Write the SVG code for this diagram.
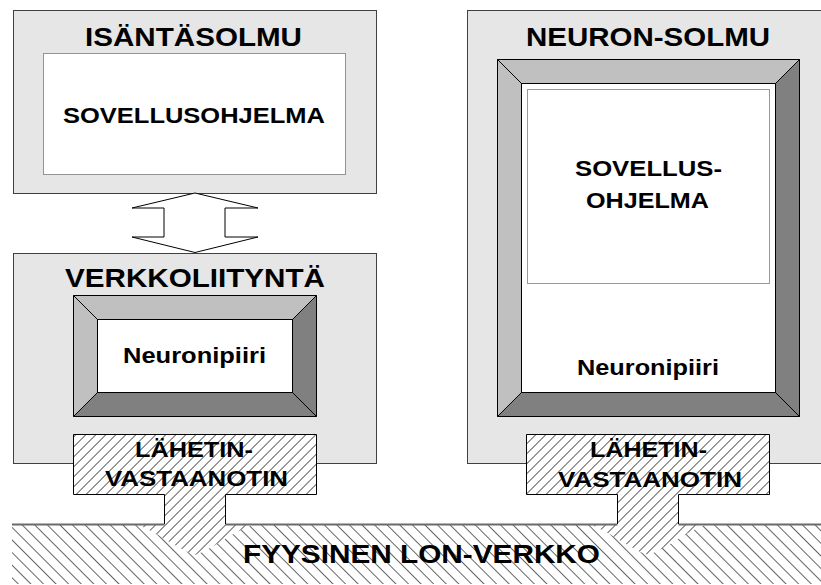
<svg xmlns="http://www.w3.org/2000/svg" width="821" height="585" viewBox="0 0 821 585">
<defs>
<pattern id="fwd" patternUnits="userSpaceOnUse" width="7.07" height="7.07" patternTransform="rotate(45)">
<rect width="7.07" height="7.07" fill="#fff"/>
<line x1="0" y1="0" x2="0" y2="7.07" stroke="#000" stroke-width="1.2"/>
</pattern>
<pattern id="back" patternUnits="userSpaceOnUse" width="8.9" height="8.9" patternTransform="rotate(-45)">
<rect width="8.9" height="8.9" fill="#fff"/>
<line x1="0" y1="0" x2="0" y2="8.9" stroke="#000" stroke-width="1.2"/>
</pattern>
</defs>
<style>
text{font-family:"Liberation Sans",Arial,sans-serif;font-weight:bold;fill:#000;}
.big{font-size:26px;}
.med{font-size:22px;}
.box{fill:#e6e6e6;stroke:#404040;stroke-width:1;}
.dot{fill:#fff;stroke:#333;stroke-width:1;stroke-dasharray:1 1;}
.bev{stroke:#000;stroke-width:1;stroke-linejoin:miter;}
.lt{fill:#c0c0c0;}
.dk{fill:#808080;}
.out{fill:none;stroke:#000;stroke-width:1;}
</style>
<rect width="821" height="585" fill="#fff"/>

<g id="isantasolmu">
<rect class="box" x="13.5" y="10.5" width="363" height="183"/>
<rect class="dot" x="43.5" y="53.5" width="302" height="121"/>
<text class="big" x="85" y="46" textLength="217" lengthAdjust="spacingAndGlyphs">ISÄNTÄSOLMU</text>
<text class="med" x="63" y="123" textLength="262" lengthAdjust="spacingAndGlyphs">SOVELLUSOHJELMA</text>
</g>

<g id="verkkoliityntä">
<rect class="box" x="13.5" y="253.5" width="363" height="210"/>
<text class="big" x="65" y="287" textLength="260" lengthAdjust="spacingAndGlyphs">VERKKOLIITYNTÄ</text>
<g id="neuronipiiri-left">
<polygon class="bev lt" points="73.5,295.5 316.5,295.5 292.5,319.5 97.5,319.5"/>
<polygon class="bev lt" points="73.5,295.5 97.5,319.5 97.5,392.5 73.5,416.5"/>
<polygon class="bev dk" points="316.5,295.5 316.5,416.5 292.5,392.5 292.5,319.5"/>
<polygon class="bev dk" points="73.5,416.5 97.5,392.5 292.5,392.5 316.5,416.5"/>
<rect x="97.5" y="319.5" width="195" height="73" fill="#fff" stroke="#000"/>
<text class="med" x="123" y="363" textLength="143" lengthAdjust="spacingAndGlyphs">Neuronipiiri</text>
</g>
</g>

<g id="neuron-solmu">
<rect class="box" x="467.5" y="10.5" width="370" height="453"/>
<text class="big" x="526" y="46" textLength="244" lengthAdjust="spacingAndGlyphs">NEURON-SOLMU</text>
<g id="neuronipiiri-right">
<polygon class="bev lt" points="497.5,59.5 799.5,59.5 775.5,83.5 521.5,83.5"/>
<polygon class="bev lt" points="497.5,59.5 521.5,83.5 521.5,392.5 497.5,416.5"/>
<polygon class="bev dk" points="799.5,59.5 799.5,416.5 775.5,392.5 775.5,83.5"/>
<polygon class="bev dk" points="497.5,416.5 521.5,392.5 775.5,392.5 799.5,416.5"/>
<rect x="521.5" y="83.5" width="254" height="309" fill="#fff" stroke="#000"/>
<rect class="dot" x="527.5" y="89.5" width="242" height="194"/>
<text class="med" x="575" y="176" textLength="147" lengthAdjust="spacingAndGlyphs">SOVELLUS-</text>
<text class="med" x="586" y="208" textLength="123" lengthAdjust="spacingAndGlyphs">OHJELMA</text>
<text class="med" x="577" y="375" textLength="142" lengthAdjust="spacingAndGlyphs">Neuronipiiri</text>
</g>
</g>

<g id="lon-verkko">
<rect x="12" y="524" width="820" height="60" fill="url(#back)"/>
</g>

<g id="lahetin-left">
<path d="M73.5,434.5 H316.5 V494.5 H225.5 V524 H255 C235,530 215,548 195,555 C175,548 155,530 135,524 H164.5 V494.5 H73.5 Z" fill="url(#fwd)"/>
</g>
<g id="lahetin-right">
<path d="M526.5,434.5 H769.5 V494.5 H678.5 V524 H708 C688,530 668,548 648,555 C628,548 608,530 588,524 H617.5 V494.5 H526.5 Z" fill="url(#fwd)"/>
</g>

<g id="band-edge">
<path d="M12,524.5 H164.5 M225.5,524.5 H617.5 M678.5,524.5 H832" stroke="#6a6a6a" stroke-width="1.8" fill="none"/>
</g>
<g id="lahetin-outlines">
<path class="out" d="M164.5,524 V494.5 H73.5 V434.5 H316.5 V494.5 H225.5 V524"/>
<path class="out" d="M617.5,524 V494.5 H526.5 V434.5 H769.5 V494.5 H678.5 V524"/>
<text class="med" x="135" y="457" textLength="118" lengthAdjust="spacingAndGlyphs">LÄHETIN-</text>
<text class="med" x="105" y="486" textLength="183" lengthAdjust="spacingAndGlyphs">VASTAANOTIN</text>
<text class="med" x="590" y="457" textLength="117" lengthAdjust="spacingAndGlyphs">LÄHETIN-</text>
<text class="med" x="558" y="487" textLength="184" lengthAdjust="spacingAndGlyphs">VASTAANOTIN</text>
</g>

<g id="lon-label">
<text class="big" x="243" y="563" textLength="357" lengthAdjust="spacingAndGlyphs">FYYSINEN LON-VERKKO</text>
</g>

<g id="connectors">
<polygon points="195,193 258,208 225,208 225,237 258,237 195,252.5 132,237 164,237 164,208 132,208" fill="#fff" stroke="#000" stroke-width="1"/>
</g>
</svg>
